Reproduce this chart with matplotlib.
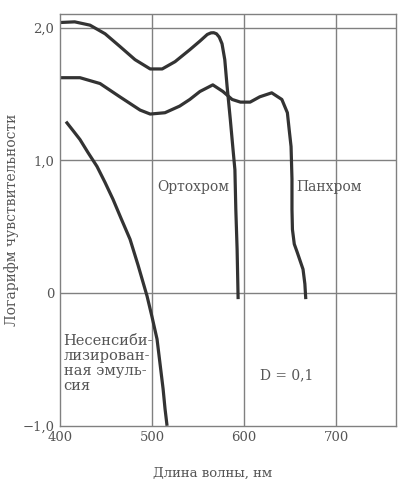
import matplotlib.pyplot as plt

# Ортохром
orto_x = [400, 416, 432.6, 449, 465, 481.5, 498, 511, 525, 541, 552, 560, 564, 567, 570, 573, 576, 579,
          581.5, 585, 588, 590, 591, 592.4, 593.5]
orto_y = [2.04, 2.045, 2.02, 1.955, 1.86, 1.76, 1.69, 1.69, 1.745, 1.835, 1.90, 1.95, 1.962, 1.963, 1.955,
          1.93, 1.88, 1.76, 1.56, 1.31, 1.08, 0.93, 0.63, 0.33, -0.045]

# Панхром
pan_x = [400, 421.7, 443.5, 465, 487, 498, 514, 530, 541, 552, 566, 577, 587, 596, 606.5, 617,
         630, 641, 647, 649, 651, 652, 652, 652.5, 654.5, 657.6, 664, 666, 667]
pan_y = [1.624, 1.624, 1.58, 1.48, 1.38, 1.35, 1.36, 1.41, 1.46, 1.52, 1.57, 1.52, 1.46, 1.44, 1.44,
         1.48, 1.51, 1.46, 1.36, 1.23, 1.105, 0.86, 0.63, 0.48, 0.37, 0.31, 0.18, 0.07, -0.045]

# Несенсибилизированная эмульсия
nes_x = [406.5, 414.1, 421.7, 430.4, 440.2, 448.9, 457.6, 466.3, 476.1, 484.8, 494.6, 500, 505.4,
         508.7, 512, 514.1, 516.3]
nes_y = [1.293, 1.226, 1.158, 1.06, 0.955, 0.835, 0.707, 0.564, 0.406, 0.211, -0.023, -0.18, -0.346,
         -0.534, -0.722, -0.872, -1.0]

xticks = [400, 500, 600, 700]
xtick_labels = ['400', '500', '600', '700']
yticks = [-1.0, 0, 1.0, 2.0]
ytick_labels = ['\u22121,0', '0', '1,0', '2,0']

plt.rcParams['font.family'] = ['DejaVu Serif']
txt = '#555555'
grid = '#808080'
line = '#333333'

fig = plt.figure(figsize=(4, 4.79), dpi=100)
ax = fig.add_axes([0.15, 0.111, 0.84, 0.86])

for xs, ys in [(orto_x, orto_y), (pan_x, pan_y), (nes_x, nes_y)]:
    ax.plot(xs, ys, color=line, lw=2.3, solid_capstyle='butt', solid_joinstyle='round')

ax.set_xlim(400, 765)
ax.set_ylim(-1.0, 2.105)
for v in [500, 600, 700]:
    ax.axvline(v, color=grid, lw=1.0, zorder=0)
for v in [0, 1.0, 2.0]:
    ax.axhline(v, color=grid, lw=1.0, zorder=0)
for s in ax.spines.values():
    s.set_color(grid)
    s.set_linewidth(1.0)

ax.set_xticks(xticks)
ax.set_xticklabels(xtick_labels)
ax.set_yticks(yticks)
ax.set_yticklabels(ytick_labels)
ax.tick_params(length=0, labelsize=9.5, colors=txt, pad=4)

fig.text(213 / 400, 1 - 473 / 479, 'Длина волны, нм', fontsize=9.5, color=txt,
         ha='center', va='center')
fig.text(12 / 400, 1 - 220 / 479, 'Логарифм чувствительности', fontsize=10, color=txt,
         ha='center', va='center', rotation=90)

ax.text(505.4, 0.80, 'Ортохром', fontsize=10, color=txt, va='center')
ax.text(656.5, 0.80, 'Панхром', fontsize=10, color=txt, va='center')
ax.text(404, -0.53, 'Несенсиби-\nлизирован-\nная эмуль-\nсия', fontsize=10.5, color=txt,
        va='center', linespacing=1.1)
ax.text(617, -0.62, 'D = 0,1', fontsize=10, color=txt, va='center')

fig.savefig('out.png', dpi=100)
